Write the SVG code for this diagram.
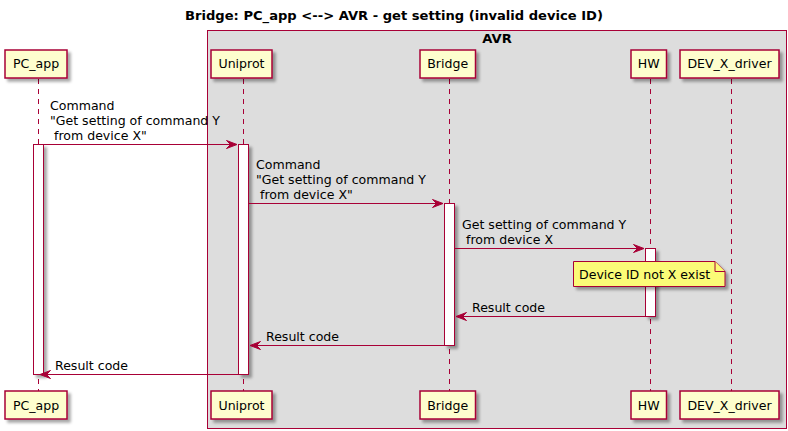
<svg xmlns="http://www.w3.org/2000/svg" width="788" height="431" viewBox="0 0 788 431">
<style>
text{font-family:"DejaVu Sans",Verdana,sans-serif;font-size:12.55px;fill:#000}
.t{font-weight:bold;font-size:13.1px}
.p{fill:#FEFECE;stroke:#A80036;stroke-width:1.5}
.ll{stroke:#A80036;stroke-width:1;stroke-dasharray:5,5;fill:none}
.act{fill:#FFFFFF;stroke:#A80036;stroke-width:1}
.m{stroke:#A80036;stroke-width:1;fill:none}
.ah{fill:#A80036;stroke:#A80036;stroke-width:1}
.note{fill:#FBFB77;stroke:#A80036;stroke-width:1}
</style>
<defs>
<filter id="sh" x="-20%" y="-20%" width="150%" height="150%">
<feGaussianBlur in="SourceAlpha" stdDeviation="1.5"/>
<feOffset dx="3" dy="3" result="o"/>
<feComponentTransfer><feFuncA type="linear" slope="0.35"/></feComponentTransfer>
<feMerge><feMergeNode/><feMergeNode in="SourceGraphic"/></feMerge>
</filter>
</defs>
<rect width="788" height="431" fill="#FFFFFF"/>
<text class="t" x="394" y="20" text-anchor="middle">Bridge: PC_app &lt;--&gt; AVR - get setting (invalid device ID)</text>
<g id="box-AVR">
<rect x="207.5" y="30.5" width="579" height="398" fill="#DDDDDD" stroke="#A80036" stroke-width="1"/>
<text class="t" x="497" y="43" text-anchor="middle">AVR</text>
</g>
<g id="lifelines">
<line class="ll" x1="38.5" y1="79" x2="38.5" y2="391"/>
<line class="ll" x1="243.5" y1="79" x2="243.5" y2="391"/>
<line class="ll" x1="449.5" y1="79" x2="449.5" y2="391"/>
<line class="ll" x1="650.5" y1="79" x2="650.5" y2="391"/>
<line class="ll" x1="731.5" y1="79" x2="731.5" y2="391"/>
</g>
<g id="activations" filter="url(#sh)">
<rect class="act" x="33.5" y="144.5" width="10" height="230"/>
<rect class="act" x="238.5" y="144.5" width="10" height="230"/>
<rect class="act" x="444.5" y="203.5" width="10" height="142"/>
<rect class="act" x="645.5" y="248.5" width="10" height="68"/>
</g>
<g id="PC_app">
<rect class="p" filter="url(#sh)" x="5" y="50" width="62" height="28"/>
<text x="36" y="68" text-anchor="middle">PC_app</text>
<rect class="p" filter="url(#sh)" x="5" y="391" width="62" height="28"/>
<text x="36" y="410" text-anchor="middle">PC_app</text>
</g>
<g id="Uniprot">
<rect class="p" filter="url(#sh)" x="211" y="50" width="61" height="28"/>
<text x="241.5" y="68" text-anchor="middle">Uniprot</text>
<rect class="p" filter="url(#sh)" x="211" y="391" width="61" height="28"/>
<text x="241.5" y="410" text-anchor="middle">Uniprot</text>
</g>
<g id="Bridge">
<rect class="p" filter="url(#sh)" x="420" y="50" width="55.5" height="28"/>
<text x="447.7" y="68" text-anchor="middle">Bridge</text>
<rect class="p" filter="url(#sh)" x="420" y="391" width="55.5" height="28"/>
<text x="447.7" y="410" text-anchor="middle">Bridge</text>
</g>
<g id="HW">
<rect class="p" filter="url(#sh)" x="631" y="50" width="35.5" height="28"/>
<text x="648.7" y="68" text-anchor="middle">HW</text>
<rect class="p" filter="url(#sh)" x="631" y="391" width="35.5" height="28"/>
<text x="648.7" y="410" text-anchor="middle">HW</text>
</g>
<g id="DEV_X_driver">
<rect class="p" filter="url(#sh)" x="680" y="50" width="99" height="28"/>
<text x="729.5" y="68" text-anchor="middle">DEV_X_driver</text>
<rect class="p" filter="url(#sh)" x="680" y="391" width="99" height="28"/>
<text x="729.5" y="410" text-anchor="middle">DEV_X_driver</text>
</g>
<g id="note">
<path class="note" filter="url(#sh)" d="M573.5,261.5 L715,261.5 L725,271.5 L725,286.5 L573.5,286.5 Z"/>
<path class="note" d="M715,261.5 L715,271.5 L725,271.5"/>
<text x="579" y="279">Device ID not X exist</text>
</g>
<g id="connectors">
<line class="m" x1="43.5" y1="144.5" x2="237" y2="144.5"/>
<polygon class="ah" points="226.5,140.5 237,144.5 226.5,148.5 230.5,144.5"/>
<text x="50" y="110">Command</text>
<text x="50" y="125">"Get setting of command Y</text>
<text x="50" y="140" xml:space="preserve"> from device X"</text>

<line class="m" x1="248.5" y1="203.5" x2="443" y2="203.5"/>
<polygon class="ah" points="432.5,199.5 443,203.5 432.5,207.5 436.5,203.5"/>
<text x="256" y="169">Command</text>
<text x="256" y="184">"Get setting of command Y</text>
<text x="256" y="199" xml:space="preserve"> from device X"</text>

<line class="m" x1="454.5" y1="248.5" x2="644" y2="248.5"/>
<polygon class="ah" points="633.5,244.5 644,248.5 633.5,252.5 637.5,248.5"/>
<text x="462" y="229">Get setting of command Y</text>
<text x="462" y="244" xml:space="preserve"> from device X</text>

<line class="m" x1="645.5" y1="316.5" x2="456" y2="316.5"/>
<polygon class="ah" points="466.5,312.5 456,316.5 466.5,320.5 462.5,316.5"/>
<text x="472" y="312">Result code</text>

<line class="m" x1="444.5" y1="345.5" x2="250" y2="345.5"/>
<polygon class="ah" points="260.5,341.5 250,345.5 260.5,349.5 256.5,345.5"/>
<text x="266" y="341">Result code</text>

<line class="m" x1="238.5" y1="374.5" x2="40" y2="374.5"/>
<polygon class="ah" points="50.5,370.5 40,374.5 50.5,378.5 46.5,374.5"/>
<text x="55" y="370">Result code</text>
</g>
</svg>
